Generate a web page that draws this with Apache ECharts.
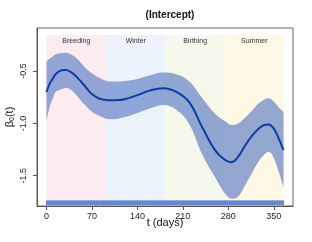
<!DOCTYPE html>
<html><head><meta charset="utf-8">
<script src="https://cdn.jsdelivr.net/npm/echarts@6/dist/echarts.min.js"></script>
<style>html,body{margin:0;padding:0;background:#fff}#c{width:312px;height:242px}</style>
</head><body><div id="c"></div>
<script>
const days = [0,5,10,14,20,27,30,40,50,60,70,80,90,100,110,120,140,160,180,200,220,240,260,275,285,295,305,315,325,335,342,350,358,365];
const meanVals = [-0.70,-0.62,-0.57,-0.53,-0.50,-0.49,-0.49,-0.52,-0.58,-0.65,-0.72,-0.76,-0.775,-0.78,-0.777,-0.77,-0.73,-0.685,-0.665,-0.70,-0.80,-1.04,-1.26,-1.35,-1.37,-1.32,-1.22,-1.13,-1.06,-1.015,-1.01,-1.05,-1.15,-1.255];
const upperVals = [-0.41,-0.38,-0.36,-0.34,-0.33,-0.325,-0.325,-0.35,-0.40,-0.47,-0.52,-0.56,-0.59,-0.60,-0.60,-0.595,-0.575,-0.54,-0.515,-0.53,-0.60,-0.76,-0.91,-0.98,-1.015,-1.00,-0.95,-0.89,-0.82,-0.775,-0.76,-0.79,-0.85,-0.89];
const lowerVals = [-0.98,-0.84,-0.76,-0.70,-0.68,-0.665,-0.66,-0.69,-0.76,-0.83,-0.89,-0.925,-0.95,-0.96,-0.955,-0.94,-0.90,-0.855,-0.825,-0.87,-1.01,-1.30,-1.52,-1.67,-1.72,-1.70,-1.60,-1.49,-1.38,-1.30,-1.27,-1.33,-1.47,-1.61];
const seasonNames = ['Breeding','Winter','Birthing','Summer'];
const seasonStart = [0,92,183,275];
const seasonEnd = [92,183,275,365];
const seasonColors = ['#fdecef','#edf3fd','#f5f8ea','#fef8e4'];
const xTicks = [0,70,140,210,280,350];
const yTicks = [-1.5,-1.0,-0.5];
const rugDays = [0,1,2,3,4,5,6,7,8,9,10,11,12,13,14,15,16,17,18,19,20,21,22,23,24,25,26,27,28,29,30,31,32,33,34,35,36,37,38,39,40,41,42,43,44,45,46,47,48,49,50,51,52,53,54,55,56,57,58,59,60,61,62,63,64,65,66,67,68,69,70,71,72,73,74,75,76,77,78,79,80,81,82,83,84,85,86,87,88,89,90,91,92,93,94,95,96,97,98,99,100,101,102,103,104,105,106,107,108,109,110,111,112,113,114,115,116,117,118,119,120,121,122,123,124,125,126,127,128,129,130,131,132,133,134,135,136,137,138,139,140,141,142,143,144,145,146,147,148,149,150,151,152,153,154,155,156,157,158,159,160,161,162,163,164,165,166,167,168,169,170,171,172,173,174,175,176,177,178,179,180,181,182,183,184,185,186,187,188,189,190,191,192,193,194,195,196,197,198,199,200,201,202,203,204,205,206,207,208,209,210,211,212,213,214,215,216,217,218,219,220,221,222,223,224,225,226,227,228,229,230,231,232,233,234,235,236,237,238,239,240,241,242,243,244,245,246,247,248,249,250,251,252,253,254,255,256,257,258,259,260,261,262,263,264,265,266,267,268,269,270,271,272,273,274,275,276,277,278,279,280,281,282,283,284,285,286,287,288,289,290,291,292,293,294,295,296,297,298,299,300,301,302,303,304,305,306,307,308,309,310,311,312,313,314,315,316,317,318,319,320,321,322,323,324,325,326,327,328,329,330,331,332,333,334,335,336,337,338,339,340,341,342,343,344,345,346,347,348,349,350,351,352,353,354,355,356,357,358,359,360,361,362,363,364,365];

const X_MIN = -14.6, X_MAX = 379.6, Y_MIN = -1.789, Y_MAX = -0.089, SHADE_TOP = -0.156;

const chart = echarts.init(document.getElementById('c'), null, {renderer:'canvas'});
const font = 'Liberation Sans, Arial, Helvetica, sans-serif';

// band data as [value, day] so the value dimension comes first (stacking dimension)
const lowerData = days.map((d,i)=>[lowerVals[i], d]);
const diffData = days.map((d,i)=>[upperVals[i]-lowerVals[i], d]);
const meanData = days.map((d,i)=>[d, meanVals[i]]);

chart.setOption({
  animation:false,
  textStyle:{fontFamily:font},
  title:{text:'(Intercept)', left:165, top:5, textAlign:'center',
    textStyle:{fontSize:10, fontWeight:'bold', color:'#111', fontFamily:font}},
  grid:{left:37, right:19, top:28, bottom:36, show:true, borderColor:'#666', borderWidth:1,
    backgroundColor:'transparent', outerBoundsMode:'none', containLabel:false},
  xAxis:{type:'value', min:X_MIN, max:X_MAX,
    name:'t (days)', nameLocation:'middle', nameGap:11, nameMoveOverlap:false,
    nameTextStyle:{fontSize:11, color:'#111', fontFamily:font},
    axisLine:{show:true, onZero:false, lineStyle:{color:'#555'}},
    axisTick:{show:true, customValues:xTicks, length:4, inside:false, lineStyle:{color:'#555'}},
    axisLabel:{customValues:xTicks, fontSize:9, color:'#222', margin:6, fontFamily:font},
    splitLine:{show:false}},
  yAxis:{type:'value', min:Y_MIN, max:Y_MAX,
    name:'β{s|0}(t)', nameLocation:'middle', nameGap:21, nameRotate:90, nameMoveOverlap:false,
    nameTextStyle:{fontSize:11, color:'#111', fontFamily:font,
      rich:{s:{fontSize:7, verticalAlign:'bottom', padding:[5,0,0,0], color:'#111', fontFamily:font}}},
    axisLine:{show:true, onZero:false, lineStyle:{color:'#555'}},
    axisTick:{show:true, customValues:yTicks, length:4, lineStyle:{color:'#555'}},
    axisLabel:{customValues:yTicks, rotate:90, fontSize:9, color:'#222', margin:9, fontFamily:font,
      formatter:v=>v.toFixed(1)},
    splitLine:{show:false}},
  series:[
    {type:'line', data:[], z:1, silent:true,
      markArea:{silent:true, z:1, label:{show:true, position:'insideTop', distance:3, fontSize:7, color:'#333', fontFamily:font},
        data: seasonNames.map((n,i)=>[
          {name:n, xAxis:seasonStart[i], yAxis:SHADE_TOP, itemStyle:{color:seasonColors[i]}},
          {xAxis:seasonEnd[i], yAxis:Y_MIN}])}
    },
    {type:'line', data:lowerData, encode:{x:1, y:0}, stack:'band', stackStrategy:'all', smooth:0.4, symbol:'none', z:2, silent:true,
      lineStyle:{opacity:0}},
    {type:'line', data:diffData, encode:{x:1, y:0}, stack:'band', stackStrategy:'all', smooth:0.4, symbol:'none', z:2, silent:true,
      lineStyle:{opacity:0}, areaStyle:{color:'rgba(105,135,200,0.72)', opacity:1}},
    {type:'line', data:meanData, smooth:0.4, symbol:'none', z:3, silent:true,
      lineStyle:{color:'#0a3ea6', width:2}},
    {type:'custom', z:4, silent:true, data:rugDays.map(d=>[d, Y_MIN]),
      renderItem:(params, api)=>{
        const p = api.coord([api.value(0), api.value(1)]);
        return {type:'line', shape:{x1:p[0], y1:p[1]-0.5, x2:p[0], y2:p[1]-5.5},
          style:{stroke:'#5b80d0', lineWidth:1}};
      }}
  ]
});
</script>
</body></html>
